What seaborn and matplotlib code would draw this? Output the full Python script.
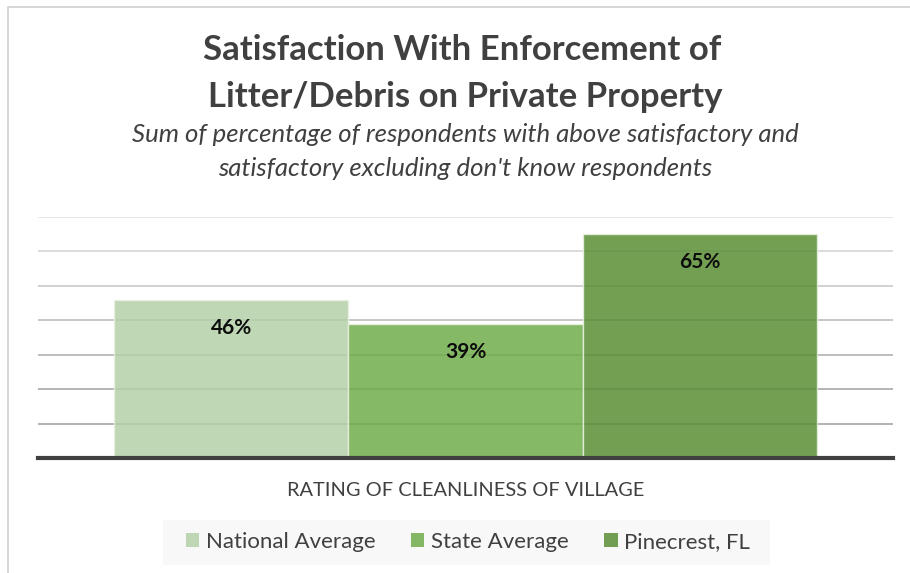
import matplotlib
matplotlib.use("Agg")
import matplotlib.pyplot as plt
from matplotlib.patches import Rectangle, Patch
import seaborn as sns
import pandas as pd

# Chart data
category = ["RATING OF CLEANLINESS OF VILLAGE"]
series = ["National Average", "State Average", "Pinecrest, FL"]
values = [46, 39, 65]

palette = ["#B4D0A8", "#71AD4A", "#5A8E35"]
bar_alpha = 0.85
grid_levels = [10, 20, 30, 40, 50, 60, 70]
grid_colors = ["#A4A4A4", "#A8A8A8", "#B2B2B2", "#BDBDBD", "#C9C9C9", "#D6D6D6", "#E4E4E4"]

sns.set_theme(style="white")
plt.rcParams["font.family"] = ["Lato", "DejaVu Sans"]

df = pd.DataFrame({
    "category": category * len(series),
    "series": series,
    "value": values,
})

W, H = 910, 573
fig = plt.figure(figsize=(W / 100, H / 100), dpi=100)
fig.patch.set_facecolor("white")

# outer chart frame
fig.add_artist(Rectangle((8 / W, -0.05), 1.1, 1 - 7 / H + 0.05, transform=fig.transFigure,
                         facecolor="none", edgecolor="#D0D0D0", linewidth=1.2))

ax = fig.add_axes([38 / W, (H - 458) / H, 855 / W, (458 - 217) / H])
ax.set_facecolor("none")

for lvl, col in zip(grid_levels, grid_colors):
    ax.axhline(lvl, color=col, linewidth=1.2, zorder=0)

sns.barplot(data=df, x="category", y="value", hue="series", palette=palette,
            saturation=1, width=0.822, gap=0, alpha=bar_alpha, edgecolor="#EAF2E4",
            linewidth=1.0, ax=ax, legend=False, zorder=2)

ax.set_ylim(0, 70)
ax.set_xlim(-0.5, 0.5)
ax.set_yticks([])
ax.set_xticks([])
ax.set_xlabel("")
ax.set_ylabel("")
for s in ["top", "right", "left"]:
    ax.spines[s].set_visible(False)
ax.spines["bottom"].set_color("#404040")
ax.spines["bottom"].set_linewidth(3)
ax.spines["bottom"].set_zorder(5)

# value labels inside bar tops
for cont in ax.containers:
    for bar in cont:
        h = bar.get_height()
        ax.text(bar.get_x() + bar.get_width() / 2, h - 8.2, f"{h:.0f}%",
                ha="center", va="center", fontsize=15, fontweight="bold",
                color="#0D0D0D", zorder=6)

title_kw = dict(ha="center", va="center", fontsize=25, fontweight="bold", color="#404040")
fig.text(462 / W, 1 - 50 / H, "Satisfaction With Enforcement of", **title_kw)
fig.text(465 / W, 1 - 97 / H, "Litter/Debris on Private Property", **title_kw)
sub_kw = dict(ha="center", va="center", fontsize=18.5, style="italic", color="#404040")
fig.text(465 / W, 1 - 135 / H, "Sum of percentage of respondents with above satisfactory and", **sub_kw)
fig.text(465 / W, 1 - 168 / H, "satisfactory excluding don't know respondents", **sub_kw)

fig.text(466 / W, 1 - 490 / H, category[0], ha="center", va="center",
         fontsize=14.4, color="#404040")

# legend with light background
fig.add_artist(Rectangle((163 / W, 1 - 565 / H), 607 / W, 45 / H, transform=fig.transFigure,
                         facecolor="#F8F8F8", edgecolor="none", zorder=0))
handles = [Patch(facecolor=c, alpha=bar_alpha, edgecolor="none") for c in palette]
fig.legend(handles, series, loc="center", bbox_to_anchor=(468 / W, 1 - 542 / H),
           ncol=3, frameon=False, fontsize=16, handlelength=0.6, handleheight=0.6,
           handletextpad=0.3, columnspacing=1.6, labelcolor="#404040")

fig.savefig("out.png", dpi=100)
